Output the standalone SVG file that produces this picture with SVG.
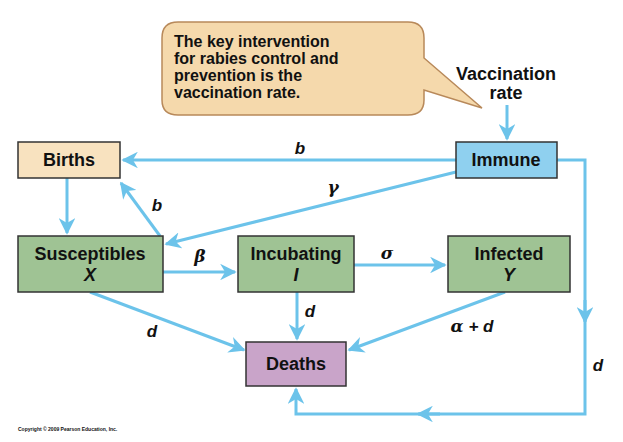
<svg xmlns="http://www.w3.org/2000/svg" width="623" height="442" viewBox="0 0 623 442">
<style>
text{font-family:"Liberation Sans",Arial,sans-serif;font-weight:bold;fill:#111}
.n{font-size:18px;text-anchor:middle}
.l{font-size:17px;font-style:italic;text-anchor:middle}
.g{font-family:"DejaVu Serif","Liberation Serif",serif}
.box{stroke:#333;stroke-width:1.5}
.c{stroke:#6cc3ea;stroke-width:3;fill:none}
</style>
<defs>
<marker id="a" viewBox="0 0 10 10" refX="9" refY="5" markerWidth="5.5" markerHeight="5.5" orient="auto"><path d="M0,0 L10,5 L0,10 L3,5z" fill="#6cc3ea"/></marker>
</defs>
<rect width="623" height="442" fill="#fff"/>
<g id="callout">
<path d="M178,22 H408 Q424,22 424,38 V58 L482,108 L424,90 V100 Q424,115 408,115 H178 Q162,115 162,100 V38 Q162,22 178,22z" fill="#f5d9ac" stroke="#b8895a" stroke-width="1.5"/>
<text x="174" y="47" font-size="16">The key intervention</text>
<text x="174" y="64" font-size="16">for rabies control and</text>
<text x="174" y="81" font-size="16">prevention is the</text>
<text x="174" y="98" font-size="16">vaccination rate.</text>
</g>
<g id="vacc"><text class="n" x="506" y="80">Vaccination</text><text class="n" x="506" y="99">rate</text></g>
<g id="connectors">
<path class="c" d="M507,105 V139" marker-end="url(#a)"/>
<path class="c" d="M456,160 H123" marker-end="url(#a)"/>
<path class="c" d="M456,172 L166,244" marker-end="url(#a)"/>
<path class="c" d="M160,236 L121,183" marker-end="url(#a)"/>
<path class="c" d="M67,178 V233" marker-end="url(#a)"/>
<path class="c" d="M163,272 H235" marker-end="url(#a)"/>
<path class="c" d="M354,265 H445" marker-end="url(#a)"/>
<path class="c" d="M90,292 L244,350" marker-end="url(#a)"/>
<path class="c" d="M297,292 V339" marker-end="url(#a)"/>
<path class="c" d="M505,292 L349,350" marker-end="url(#a)"/>
<path class="c" d="M557,160 H585 V414 H296 V389" marker-end="url(#a)"/>
<path class="c" d="M585,300 V322" marker-end="url(#a)"/>
<path class="c" d="M440,414 H418" marker-end="url(#a)"/>
<text class="l" x="300" y="154">b</text>
<text class="l g" x="333" y="193">γ</text>
<text class="l" x="157" y="211">b</text>
<text class="l g" x="200" y="262">β</text>
<text class="l g" x="387" y="259">σ</text>
<text class="l" x="152" y="337">d</text>
<text class="l" x="310" y="317">d</text>
<text class="l" x="472" y="332"><tspan class="g">α</tspan> + d</text>
<text class="l" x="598" y="371">d</text>
</g>
<g id="births"><rect class="box" x="18" y="142" width="102" height="36" fill="#f8e2bf"/><text class="n" x="69" y="166">Births</text></g>
<g id="immune"><rect class="box" x="456" y="142" width="101" height="36" fill="#8fd0ef"/><text class="n" x="506" y="166">Immune</text></g>
<g id="susceptibles"><rect class="box" x="18" y="236" width="145" height="56" fill="#9fc394"/><text class="n" x="90" y="260">Susceptibles</text><text class="n" x="90" y="281" font-style="italic">X</text></g>
<g id="incubating"><rect class="box" x="238" y="236" width="116" height="56" fill="#9fc394"/><text class="n" x="296" y="260">Incubating</text><text class="n" x="296" y="281" font-style="italic">I</text></g>
<g id="infected"><rect class="box" x="448" y="236" width="122" height="56" fill="#9fc394"/><text class="n" x="509" y="260">Infected</text><text class="n" x="509" y="281" font-style="italic">Y</text></g>
<g id="deaths"><rect class="box" x="246" y="342" width="100" height="44" fill="#c9a4c9"/><text class="n" x="296" y="370">Deaths</text></g>
<text x="18" y="431" font-size="5" font-weight="normal" fill="#444">Copyright © 2009 Pearson Education, Inc.</text>
</svg>
